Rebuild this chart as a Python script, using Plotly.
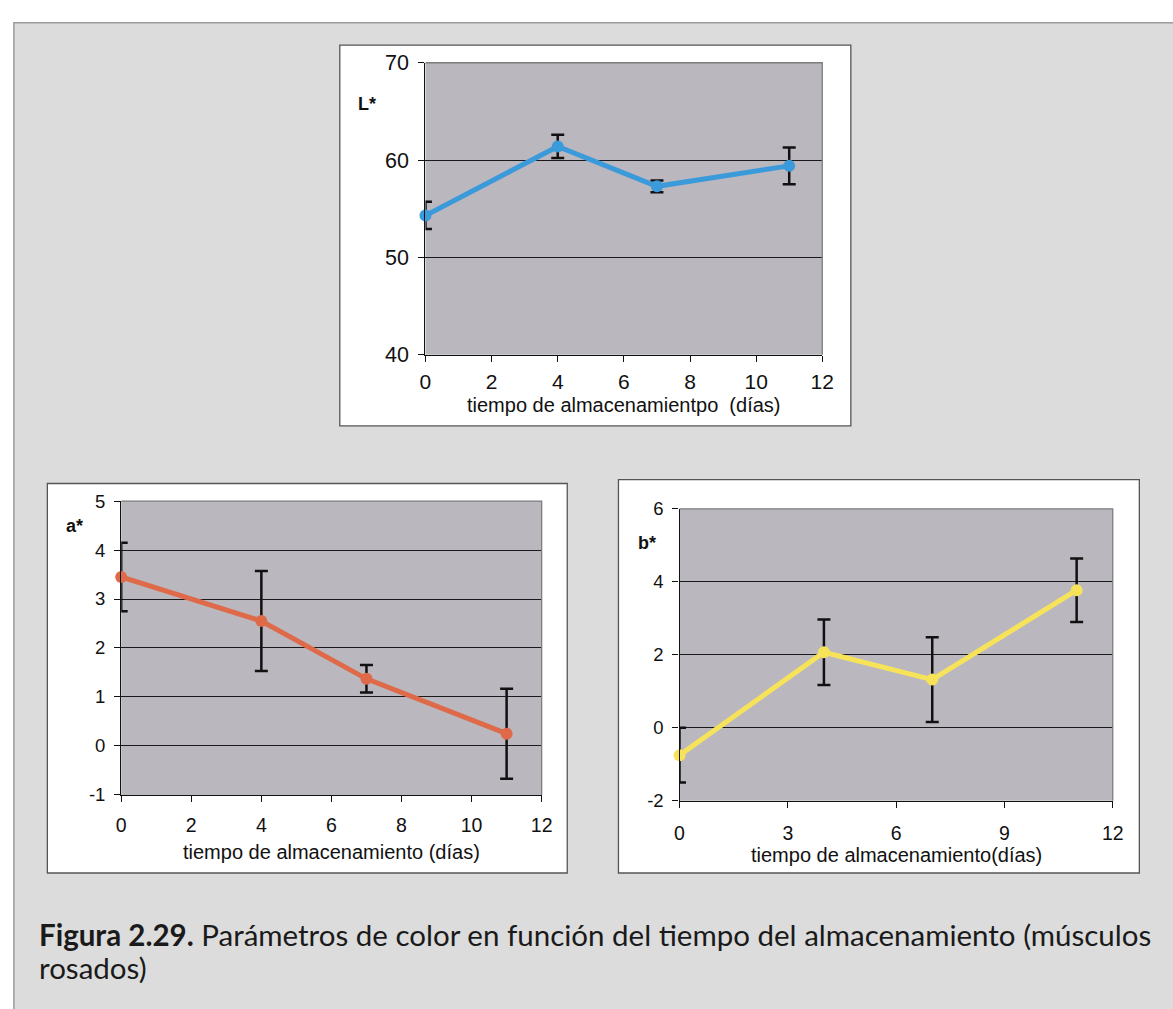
import plotly.graph_objects as go

# Storage time (days) and colour parameters with their standard deviations
dias = [0, 4, 7, 11]

L_vals = [54.3, 61.4, 57.3, 59.4]
L_err = [1.4, 1.2, 0.6, 1.9]

a_vals = [3.45, 2.55, 1.37, 0.25]
a_err = [0.70, 1.02, 0.28, 0.92]

b_vals = [-0.75, 2.07, 1.32, 3.77]
b_err = [0.75, 0.90, 1.16, 0.87]

L_ticks = [40, 50, 60, 70]
a_ticks = [-1, 0, 1, 2, 3, 4, 5]
b_ticks = [-2, 0, 2, 4, 6]
x_ticks_12 = [0, 2, 4, 6, 8, 10, 12]
x_ticks_3 = [0, 3, 6, 9, 12]

x_title_L = "tiempo de almacenamientpo  (días)"
x_title_a = "tiempo de almacenamiento (días)"
x_title_b = "tiempo de almacenamiento(días)"
caption_bold = "Figura 2.29."
caption_1 = " Parámetros de color en función del tiempo del almacenamiento (músculos"
caption_2 = "rosados)"

W, H = 1173, 1009
FONT = "Liberation Sans, Arial, sans-serif"
CAP_FONT = "Lato, sans-serif"
PLOT_BG = "#bbb7bf"
PAGE_BG = "#dcdcdc"
INK = "#111111"


def px(x):
    return x / W


def py(y):
    return 1 - y / H


def labels(vals):
    # plain hyphen for negative tick values
    return [str(v) if v >= 0 else "-" + str(-v) for v in vals]


fig = go.Figure()

series = [
    (L_vals, L_err, "#3b9ad9", "x", "y"),
    (a_vals, a_err, "#de6a49", "x2", "y2"),
    (b_vals, b_err, "#f6e35a", "x3", "y3"),
]
for vals, err, color, xa, ya in series:
    fig.add_trace(go.Scatter(
        x=dias, y=vals, xaxis=xa, yaxis=ya, mode="lines+markers",
        line=dict(color=color, width=5),
        marker=dict(color=color, size=12),
        error_y=dict(type="data", array=err, visible=True,
                     color=INK, thickness=2.5, width=6.5),
        showlegend=False, cliponaxis=False,
    ))

# plot areas in pixels: (left, top, right, bottom)
areas = {
    "": (426, 53, 829, 352),
    "2": (117, 502, 544, 803),
    "3": (684, 510, 1124, 809),
}
# white chart boxes
boxes = [(339, 35, 858, 425), (42, 484, 570, 883), (622, 480, 1151, 883)]

# per-panel: y ticks, y range, x ticks, y tick size, x tick size, x label standoff
specs = {
    "": (L_ticks, [40, 70], x_ticks_12, 21.5, 21, 2),
    "2": (a_ticks, [-1, 5], x_ticks_12, 18.5, 19.5, 7),
    "3": (b_ticks, [-2, 6], x_ticks_3, 18.5, 19.5, 9),
}

layout = dict(
    width=W, height=H, margin=dict(l=0, r=0, t=0, b=0),
    paper_bgcolor="white", plot_bgcolor=PLOT_BG,
    showlegend=False,
)

for key, (l, t, r, b) in areas.items():
    yt, yr, xt, ysz, xsz, xstand = specs[key]
    layout["xaxis" + key] = dict(
        domain=[px(l), px(r)], range=[0, 12], tickvals=xt, ticktext=labels(xt),
        anchor="y" + key, showgrid=False, zeroline=False,
        showline=True, linecolor=INK, linewidth=1.3,
        ticks="outside", ticklen=6, tickcolor=INK, tickwidth=1.3,
        tickfont=dict(family=FONT, size=xsz, color=INK),
        ticklabelstandoff=xstand, fixedrange=True,
    )
    layout["yaxis" + key] = dict(
        domain=[py(b), py(t)], range=yr, tickvals=yt, ticktext=labels(yt),
        anchor="x" + key, showgrid=True, gridcolor="#1a1a1a", gridwidth=1,
        zeroline=False, showline=True, linecolor=INK, linewidth=1.3,
        ticks="outside", ticklen=6, tickcolor=INK, tickwidth=1.3,
        tickfont=dict(family=FONT, size=ysz, color=INK),
        ticklabelstandoff=5, fixedrange=True,
    )

shapes = []
# page background with its thin frame (right and bottom edges run off the page)
shapes.append(dict(type="rect", xref="paper", yref="paper",
                   x0=px(8), x1=1.02, y0=-0.02, y1=py(12),
                   fillcolor=PAGE_BG, line=dict(color="#9c9c9c", width=1.5),
                   layer="below"))
for (l, t, r, b) in boxes:
    shapes.append(dict(type="rect", xref="paper", yref="paper",
                       x0=px(l), x1=px(r), y0=py(b), y1=py(t),
                       fillcolor="white", line=dict(color="#555555", width=1.3),
                       layer="below"))
for key, (l, t, r, b) in areas.items():
    shapes.append(dict(type="rect", xref="paper", yref="paper",
                       x0=px(l), x1=px(r), y0=py(b), y1=py(t),
                       fillcolor=PLOT_BG, line=dict(width=0),
                       layer="below"))
    # grey plot-area border on top and right
    shapes.append(dict(type="path", xref="paper", yref="paper",
                       path=f"M {px(l)} {py(t)} L {px(r)} {py(t)} L {px(r)} {py(b)}",
                       line=dict(color="#7d7d7d", width=1.3), layer="above"))
layout["shapes"] = shapes

bold_font = dict(family=FONT, size=18, color=INK)
title_font = dict(family=FONT, size=20, color=INK)
cap_font = dict(family=CAP_FONT, size=29.5, color="#1a1a1a")


def note(text, x, y, font, xanchor="center"):
    return dict(text=text, x=px(x), y=py(y), xref="paper", yref="paper",
                xanchor=xanchor, yanchor="middle", showarrow=False, font=font)


annotations = [
    note("<b>L*</b>", 367, 95, bold_font),
    note("<b>a*</b>", 70, 528, bold_font),
    note("<b>b*</b>", 651, 545, bold_font),
    note(x_title_L, 628, 404, title_font),
    note(x_title_a, 331, 862, title_font),
    note(x_title_b, 904, 865, title_font),
    note("<b>" + caption_bold + "</b>" + caption_1, 31, 946, cap_font, "left"),
    note(caption_2, 31, 980, cap_font, "left"),
]
layout["annotations"] = annotations

fig.update_layout(**layout)
fig.write_html("out.html")
